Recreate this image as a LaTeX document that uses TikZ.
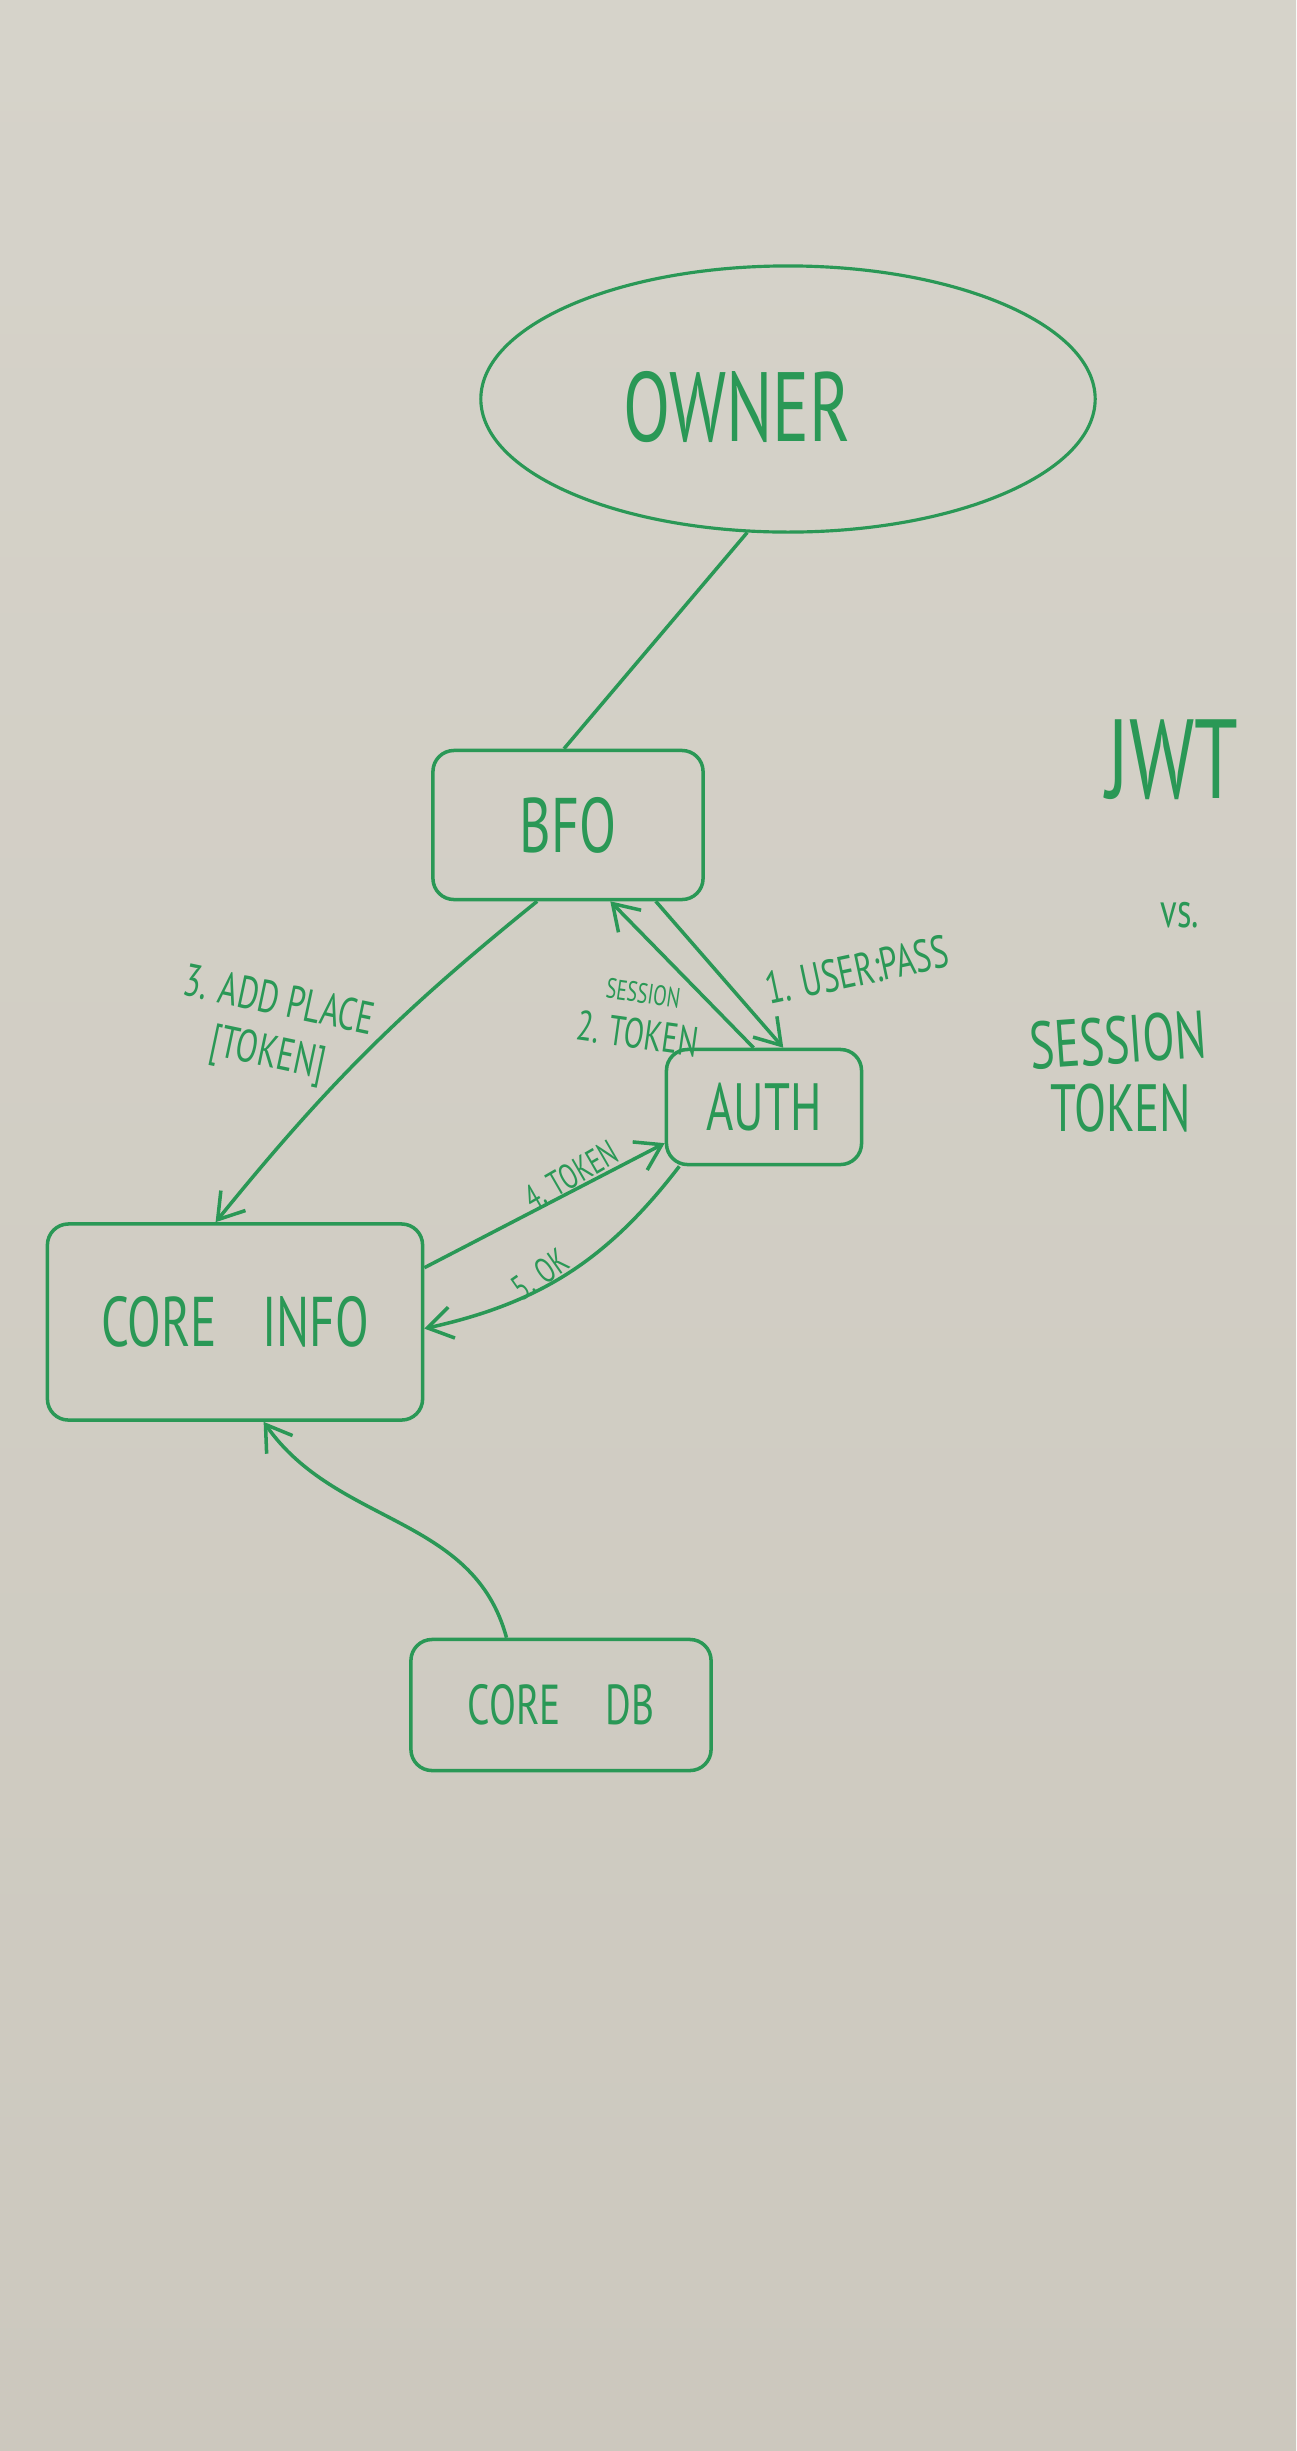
\documentclass[tikz,border=0pt]{standalone}
\usepackage{fontspec}
\setmainfont{PT Sans}[FakeStretch=0.7]
\usetikzlibrary{arrows.meta,shapes.geometric}
\definecolor{ink}{RGB}{42,152,86}
\definecolor{board}{RGB}{204,200,190}
\definecolor{boardtop}{RGB}{214,211,202}
\tikzset{
    %Define standard arrow tip
    >={Straight Barb[length=7pt,width=9pt]},
    %Define style for boxes
    service/.style={
           rectangle,
           rounded corners=6pt,
           draw=ink, line width=1pt,
           text=ink,
           inner sep=0pt,
           text centered},
    actor/.style={
           ellipse,
           draw=ink, line width=0.9pt,
           inner sep=0pt},
    % Define arrow style
    msg/.style={
           ->,
           draw=ink,
           line width=1pt},
    lbl/.style={text=ink, inner sep=1pt, align=center}
}
\begin{document}
\begin{tikzpicture}[x=0.01cm,y=-0.01cm, note/.style={text=ink, inner sep=0pt}]
\shade[top color=boardtop, bottom color=board] (0,0) rectangle (1296,2451);
\useasboundingbox (0,0) rectangle (1296,2451);
% boxes
\node[actor, minimum width=6.14cm, minimum height=2.66cm](owner) at (788,399){};
\node[note, font=\fontsize{28}{30}\selectfont](ownertext) at (737,407){OWNER};
\node[service, minimum width=2.70cm, minimum height=1.49cm, font=\fontsize{22}{24}\selectfont](bfo) at (568,825){BFO};
\node[service, minimum width=1.95cm, minimum height=1.15cm, font=\fontsize{19}{21}\selectfont](auth) at (764,1107){AUTH};
\node[service, minimum width=3.75cm, minimum height=1.96cm, font=\fontsize{20}{22}\selectfont](info) at (235,1322){CORE\hspace{0.45cm}INFO};
\node[service, minimum width=3.00cm, minimum height=1.31cm, font=\fontsize{16}{18}\selectfont](db) at (561,1705){CORE\hspace{0.45cm}DB};
% side notes
\node[note, font=\fontsize{32}{34}\selectfont](jwt) at (1172,760){JWT};
\node[note, font=\fontsize{14}{16}\selectfont](vs) at (1180,915){vs.};
\node[note, font=\fontsize{19}{21}\selectfont, rotate=4](session) at (1118,1040){SESSION};
\node[note, font=\fontsize{19}{21}\selectfont](token) at (1121,1108){TOKEN};
% connectors
\draw[ink, line width=1pt] (owner.253) -- (bfo.93);
\path
    (bfo.-41) edge[msg] (auth.72)
    (auth.100) edge[msg] (bfo.-61)
    (bfo.248) edge[msg, bend right=6] (info.101)
    (info.16) edge[msg] (auth.200)
    (auth.215) edge[msg, bend left=20] (info.-2)
    (db.129) edge[msg, out=105, in=-55] (info.-74);
% message labels
\node[lbl, font=\fontsize{13}{15}\selectfont, rotate=12](l1) at (857,970){1. USER:PASS};
\node[lbl, font=\fontsize{12}{13}\selectfont, rotate=-8](l2) at (640,1016){{\fontsize{8}{9}\selectfont SESSION}\\2. TOKEN};
\node[lbl, font=\fontsize{13}{15}\selectfont, rotate=-12](l3) at (273,1030){3. ADD PLACE\\{}[TOKEN]};
\node[lbl, font=\fontsize{10}{12}\selectfont, rotate=30](l4) at (571,1175){4. TOKEN};
\node[lbl, font=\fontsize{10}{12}\selectfont, rotate=35](l5) at (540,1274){5. OK};
\end{tikzpicture}
\end{document}
